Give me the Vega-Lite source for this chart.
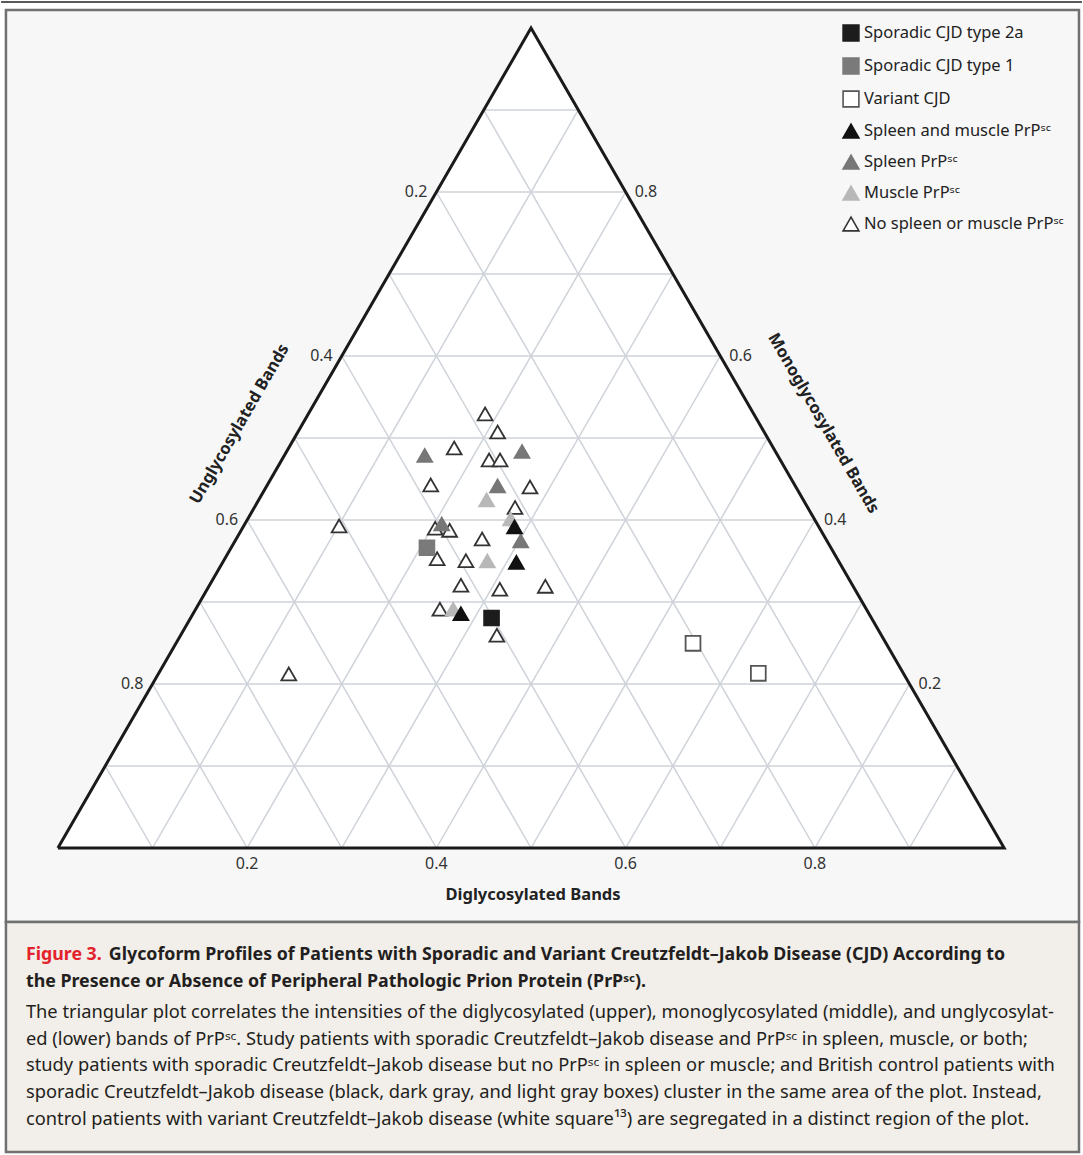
{
  "$schema": "https://vega.github.io/schema/vega-lite/v6.json",
  "width": 1083,
  "height": 1155,
  "autosize": {"type": "fit", "contains": "padding"},
  "padding": 0,
  "background": "#ffffff",
  "config": {"view": {"stroke": null}, "font": "Noto Sans"},
  "datasets": {
    "topline": [{"x": -0.06, "y": 1.0317, "x2": 1.0822, "y2": 1.0317}],
    "panel": [{"x": -0.0549, "y": 1.022, "x2": 1.0791, "y2": -0.0902}],
    "capbox": [{"x": -0.0549, "y": -0.0902, "x2": 1.0791, "y2": -0.3707}],
    "tri_fill": [
      {"x": 0, "y": 0, "y2": 0},
      {"x": 0.5, "y": 1, "y2": 0},
      {"x": 1, "y": 0, "y2": 0}
    ],
    "tri_edge": [
      {"i": 1, "x": 0, "y": 0},
      {"i": 2, "x": 0.5, "y": 1},
      {"i": 3, "x": 1, "y": 0},
      {"i": 4, "x": 0, "y": 0}
    ],
    "grid": [
      {"x": 0.05, "y": 0.1, "x2": 0.95, "y2": 0.1},
      {"x": 0.1, "y": 0.2, "x2": 0.9, "y2": 0.2},
      {"x": 0.15, "y": 0.3, "x2": 0.85, "y2": 0.3},
      {"x": 0.2, "y": 0.4, "x2": 0.8, "y2": 0.4},
      {"x": 0.25, "y": 0.5, "x2": 0.75, "y2": 0.5},
      {"x": 0.3, "y": 0.6, "x2": 0.7, "y2": 0.6},
      {"x": 0.35, "y": 0.7, "x2": 0.65, "y2": 0.7},
      {"x": 0.4, "y": 0.8, "x2": 0.6, "y2": 0.8},
      {"x": 0.45, "y": 0.9, "x2": 0.55, "y2": 0.9},
      {"x": 0.1, "y": 0, "x2": 0.55, "y2": 0.9},
      {"x": 0.2, "y": 0, "x2": 0.6, "y2": 0.8},
      {"x": 0.3, "y": 0, "x2": 0.65, "y2": 0.7},
      {"x": 0.4, "y": 0, "x2": 0.7, "y2": 0.6},
      {"x": 0.5, "y": 0, "x2": 0.75, "y2": 0.5},
      {"x": 0.6, "y": 0, "x2": 0.8, "y2": 0.4},
      {"x": 0.7, "y": 0, "x2": 0.85, "y2": 0.3},
      {"x": 0.8, "y": 0, "x2": 0.9, "y2": 0.2},
      {"x": 0.9, "y": 0, "x2": 0.95, "y2": 0.1},
      {"x": 0.1, "y": 0, "x2": 0.05, "y2": 0.1},
      {"x": 0.2, "y": 0, "x2": 0.1, "y2": 0.2},
      {"x": 0.3, "y": 0, "x2": 0.15, "y2": 0.3},
      {"x": 0.4, "y": 0, "x2": 0.2, "y2": 0.4},
      {"x": 0.5, "y": 0, "x2": 0.25, "y2": 0.5},
      {"x": 0.6, "y": 0, "x2": 0.3, "y2": 0.6},
      {"x": 0.7, "y": 0, "x2": 0.35, "y2": 0.7},
      {"x": 0.8, "y": 0, "x2": 0.4, "y2": 0.8},
      {"x": 0.9, "y": 0, "x2": 0.45, "y2": 0.9}
    ],
    "points": [
      {"group": "No spleen or muscle PrPˢᶜ", "x": 0.4515, "y": 0.5293},
      {"group": "No spleen or muscle PrPˢᶜ", "x": 0.4647, "y": 0.5073},
      {"group": "No spleen or muscle PrPˢᶜ", "x": 0.4188, "y": 0.4878},
      {"group": "No spleen or muscle PrPˢᶜ", "x": 0.4557, "y": 0.4732},
      {"group": "No spleen or muscle PrPˢᶜ", "x": 0.4673, "y": 0.4732},
      {"group": "No spleen or muscle PrPˢᶜ", "x": 0.394, "y": 0.4427},
      {"group": "No spleen or muscle PrPˢᶜ", "x": 0.4989, "y": 0.4402},
      {"group": "No spleen or muscle PrPˢᶜ", "x": 0.4831, "y": 0.4152},
      {"group": "No spleen or muscle PrPˢᶜ", "x": 0.2972, "y": 0.3927},
      {"group": "No spleen or muscle PrPˢᶜ", "x": 0.3987, "y": 0.3899},
      {"group": "No spleen or muscle PrPˢᶜ", "x": 0.414, "y": 0.3874},
      {"group": "No spleen or muscle PrPˢᶜ", "x": 0.4483, "y": 0.3768},
      {"group": "No spleen or muscle PrPˢᶜ", "x": 0.4008, "y": 0.3528},
      {"group": "No spleen or muscle PrPˢᶜ", "x": 0.4312, "y": 0.3504},
      {"group": "No spleen or muscle PrPˢᶜ", "x": 0.4259, "y": 0.3204},
      {"group": "No spleen or muscle PrPˢᶜ", "x": 0.467, "y": 0.3155},
      {"group": "No spleen or muscle PrPˢᶜ", "x": 0.5151, "y": 0.3191},
      {"group": "No spleen or muscle PrPˢᶜ", "x": 0.4037, "y": 0.2911},
      {"group": "No spleen or muscle PrPˢᶜ", "x": 0.4639, "y": 0.2594},
      {"group": "No spleen or muscle PrPˢᶜ", "x": 0.244, "y": 0.2122},
      {"group": "Muscle PrPˢᶜ", "x": 0.4531, "y": 0.4244},
      {"group": "Muscle PrPˢᶜ", "x": 0.4784, "y": 0.4012},
      {"group": "Muscle PrPˢᶜ", "x": 0.4538, "y": 0.35},
      {"group": "Muscle PrPˢᶜ", "x": 0.4177, "y": 0.2911},
      {"group": "Spleen PrPˢᶜ", "x": 0.3877, "y": 0.4787},
      {"group": "Spleen PrPˢᶜ", "x": 0.4905, "y": 0.4835},
      {"group": "Spleen PrPˢᶜ", "x": 0.4647, "y": 0.4415},
      {"group": "Spleen PrPˢᶜ", "x": 0.4891, "y": 0.3744},
      {"group": "Spleen PrPˢᶜ", "x": 0.4056, "y": 0.3951},
      {"group": "Spleen and muscle PrPˢᶜ", "x": 0.4826, "y": 0.3915},
      {"group": "Spleen and muscle PrPˢᶜ", "x": 0.4845, "y": 0.3484},
      {"group": "Spleen and muscle PrPˢᶜ", "x": 0.4259, "y": 0.2857},
      {"group": "Sporadic CJD type 1", "x": 0.39, "y": 0.3662},
      {"group": "Sporadic CJD type 2a", "x": 0.4583, "y": 0.2805},
      {"group": "Variant CJD", "x": 0.6712, "y": 0.2496},
      {"group": "Variant CJD", "x": 0.7402, "y": 0.213}
    ],
    "bottom_ticks": [
      {"x": 0.2, "y": -0.0195, "text": "0.2"},
      {"x": 0.4, "y": -0.0195, "text": "0.4"},
      {"x": 0.6, "y": -0.0195, "text": "0.6"},
      {"x": 0.8, "y": -0.0195, "text": "0.8"}
    ],
    "left_ticks": [
      {"x": 0.4, "y": 0.8, "text": "0.2"},
      {"x": 0.3, "y": 0.6, "text": "0.4"},
      {"x": 0.2, "y": 0.4, "text": "0.6"},
      {"x": 0.1, "y": 0.2, "text": "0.8"}
    ],
    "right_ticks": [
      {"x": 0.6, "y": 0.8, "text": "0.8"},
      {"x": 0.7, "y": 0.6, "text": "0.6"},
      {"x": 0.8, "y": 0.4, "text": "0.4"},
      {"x": 0.9, "y": 0.2, "text": "0.2"}
    ],
    "bottom_title": [{"x": 0.5021, "y": -0.0573, "text": "Diglycosylated Bands"}],
    "left_title": [{"x": 0.192, "y": 0.517, "text": "Unglycosylated Bands"}],
    "right_title": [{"x": 0.809, "y": 0.518, "text": "Monoglycosylated Bands"}],
    "cap_red": [{"x": -0.0338, "y": -0.1305, "text": "Figure 3."}],
    "cap_bold": [
      {"x": 0.0538, "y": -0.1305, "text": "Glycoform Profiles of Patients with Sporadic and Variant Creutzfeldt–Jakob Disease (CJD) According to"},
      {"x": -0.0338, "y": -0.1634, "text": "the Presence or Absence of Peripheral Pathologic Prion Protein (PrPˢᶜ)."}
    ],
    "cap_body": [
      {"x": -0.0338, "y": -0.2012, "text": "The triangular plot correlates the intensities of the diglycosylated (upper), monoglycosylated (middle), and unglycosylat-"},
      {"x": -0.0338, "y": -0.2342, "text": "ed (lower) bands of PrPˢᶜ. Study patients with sporadic Creutzfeldt–Jakob disease and PrPˢᶜ in spleen, muscle, or both;"},
      {"x": -0.0338, "y": -0.2659, "text": "study patients with sporadic Creutzfeldt–Jakob disease but no PrPˢᶜ in spleen or muscle; and British control patients with"},
      {"x": -0.0338, "y": -0.2988, "text": "sporadic Creutzfeldt–Jakob disease (black, dark gray, and light gray boxes) cluster in the same area of the plot. Instead,"},
      {"x": -0.0338, "y": -0.3317, "text": "control patients with variant Creutzfeldt–Jakob disease (white square¹³) are segregated in a distinct region of the plot."}
    ]
  },
  "encoding": {
    "x": {"field": "x", "type": "quantitative", "axis": null, "scale": {"domain": [-0.060127, 1.082278], "nice": false, "zero": false}},
    "y": {"field": "y", "type": "quantitative", "axis": null, "scale": {"domain": [-0.37439, 1.034146], "nice": false, "zero": false}}
  },
  "layer": [
    {
      "data": {"name": "panel"},
      "mark": {"type": "rect", "fill": "#f7f7f7", "stroke": "#707070", "strokeWidth": 2.5},
      "encoding": {"x2": {"field": "x2"}, "y2": {"field": "y2"}}
    },
    {
      "data": {"name": "capbox"},
      "mark": {"type": "rect", "fill": "#f2eee9", "stroke": "#707070", "strokeWidth": 2.5},
      "encoding": {"x2": {"field": "x2"}, "y2": {"field": "y2"}}
    },
    {
      "data": {"name": "topline"},
      "mark": {"type": "rule", "stroke": "#222222", "strokeWidth": 1.5},
      "encoding": {"x2": {"field": "x2"}, "y2": {"field": "y2"}}
    },
    {
      "data": {"name": "tri_fill"},
      "mark": {"type": "area", "fill": "#ffffff", "opacity": 1},
      "encoding": {"y2": {"field": "y2"}}
    },
    {
      "data": {"name": "grid"},
      "mark": {"type": "rule", "stroke": "#ced3d9", "strokeWidth": 1.5},
      "encoding": {"x2": {"field": "x2"}, "y2": {"field": "y2"}}
    },
    {
      "data": {"name": "tri_edge"},
      "mark": {"type": "line", "stroke": "#1a1a1a", "strokeWidth": 3, "strokeJoin": "miter", "strokeMiterLimit": 10},
      "encoding": {"order": {"field": "i", "type": "quantitative"}}
    },
    {
      "data": {"name": "points"},
      "mark": {"type": "point", "size": 220, "strokeWidth": 1.8, "opacity": 1, "fillOpacity": 1},
      "encoding": {
        "shape": {
          "field": "group", "type": "nominal",
          "scale": {
            "domain": ["Sporadic CJD type 2a", "Sporadic CJD type 1", "Variant CJD", "Spleen and muscle PrPˢᶜ", "Spleen PrPˢᶜ", "Muscle PrPˢᶜ", "No spleen or muscle PrPˢᶜ"],
            "range": ["square", "square", "square", "triangle-up", "triangle-up", "triangle-up", "triangle-up"]
          },
          "legend": {
            "orient": "none", "legendX": 841, "legendY": 24, "title": null, "padding": 0,
            "symbolSize": 250, "symbolStrokeWidth": 1.6, "symbolOpacity": 1,
            "labelFont": "Noto Sans", "labelFontSize": 16.5, "labelColor": "#222222",
            "labelOffset": 4, "rowPadding": 9, "labelLimit": 400
          }
        },
        "fill": {
          "field": "group", "type": "nominal",
          "scale": {
            "domain": ["Sporadic CJD type 2a", "Sporadic CJD type 1", "Variant CJD", "Spleen and muscle PrPˢᶜ", "Spleen PrPˢᶜ", "Muscle PrPˢᶜ", "No spleen or muscle PrPˢᶜ"],
            "range": ["#1c1c1c", "#7a7a7a", "#ffffff", "#111111", "#777777", "#b8b8b8", "#ffffff"]
          }
        },
        "stroke": {
          "field": "group", "type": "nominal",
          "scale": {
            "domain": ["Sporadic CJD type 2a", "Sporadic CJD type 1", "Variant CJD", "Spleen and muscle PrPˢᶜ", "Spleen PrPˢᶜ", "Muscle PrPˢᶜ", "No spleen or muscle PrPˢᶜ"],
            "range": ["#1c1c1c", "#7a7a7a", "#555555", "#111111", "#777777", "#b8b8b8", "#333333"]
          }
        }
      }
    },
    {
      "data": {"name": "bottom_ticks"},
      "mark": {"type": "text", "align": "center", "baseline": "middle", "fontSize": 16, "color": "#333333"},
      "encoding": {"text": {"field": "text"}}
    },
    {
      "data": {"name": "left_ticks"},
      "mark": {"type": "text", "align": "right", "baseline": "middle", "dx": -9, "fontSize": 16, "color": "#333333"},
      "encoding": {"text": {"field": "text"}}
    },
    {
      "data": {"name": "right_ticks"},
      "mark": {"type": "text", "align": "left", "baseline": "middle", "dx": 9, "fontSize": 16, "color": "#333333"},
      "encoding": {"text": {"field": "text"}}
    },
    {
      "data": {"name": "bottom_title"},
      "mark": {"type": "text", "align": "center", "baseline": "middle", "fontSize": 16.5, "fontWeight": "bold", "color": "#222222"},
      "encoding": {"text": {"field": "text"}}
    },
    {
      "data": {"name": "left_title"},
      "mark": {"type": "text", "align": "center", "baseline": "middle", "angle": 300, "fontSize": 16.5, "fontWeight": "bold", "color": "#222222"},
      "encoding": {"text": {"field": "text"}}
    },
    {
      "data": {"name": "right_title"},
      "mark": {"type": "text", "align": "center", "baseline": "middle", "angle": 60, "fontSize": 16.5, "fontWeight": "bold", "color": "#222222"},
      "encoding": {"text": {"field": "text"}}
    },
    {
      "data": {"name": "cap_red"},
      "mark": {"type": "text", "align": "left", "baseline": "middle", "fontSize": 17.8, "fontWeight": "bold", "color": "#e3222b"},
      "encoding": {"text": {"field": "text"}}
    },
    {
      "data": {"name": "cap_bold"},
      "mark": {"type": "text", "align": "left", "baseline": "middle", "fontSize": 17.8, "fontWeight": "bold", "color": "#231f20"},
      "encoding": {"text": {"field": "text"}}
    },
    {
      "data": {"name": "cap_body"},
      "mark": {"type": "text", "align": "left", "baseline": "middle", "fontSize": 18.3, "color": "#231f20"},
      "encoding": {"text": {"field": "text"}}
    }
  ]
}
